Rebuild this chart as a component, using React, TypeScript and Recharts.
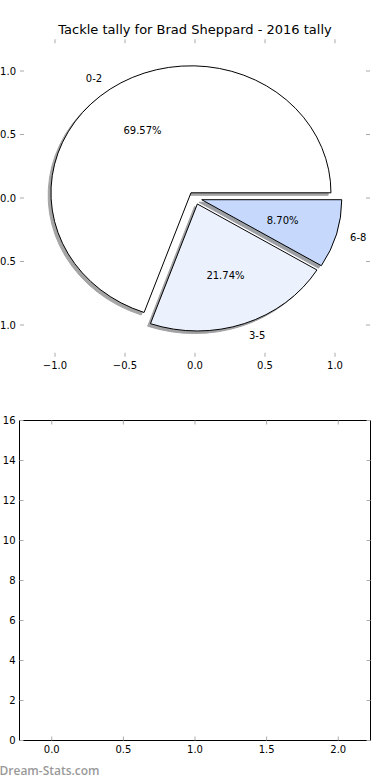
import React from 'react'
import { PieChart, Pie, Cell, ScatterChart, Scatter, XAxis, YAxis } from 'recharts'

const TITLE = 'Tackle tally for Brad Sheppard - 2016 tally'
const WATERMARK = 'Dream-Stats.com'

const tallyBins = ['0-2', '3-5', '6-8']
const tallyCounts = [16, 5, 2]
const sliceColors = ['#ffffff', '#ebf1fd', '#c6d9fd']

const pieTicks = [-1, -0.5, 0, 0.5, 1]
const countTicks = [0, 2, 4, 6, 8, 10, 12, 14, 16]
const binTicks = [0, 0.5, 1, 1.5, 2]

const pieData = tallyBins.map((name, i) => ({ name, value: tallyCounts[i] }))

// pie axes are not "equal" in the original, so the pie ends up squashed
const R = 140
const KY = 127 / 140
const EXPLODE = 0.05
const SHADOW = 0.02
const TICK_COLOR = '#aaa'
const FONT = '"DejaVu Sans", sans-serif'

const fmt = (v: number, digits: number) => (v < 0 ? '\u2212' : '') + Math.abs(v).toFixed(digits)

function wedgePath(ox: number, oy: number, r: number, a0: number, a1: number) {
  const rad = Math.PI / 180
  const x0 = ox + r * Math.cos(a0 * rad)
  const y0 = oy - r * Math.sin(a0 * rad)
  const x1 = ox + r * Math.cos(a1 * rad)
  const y1 = oy - r * Math.sin(a1 * rad)
  const large = a1 - a0 > 180 ? 1 : 0
  return `M${ox},${oy} L${x0},${y0} A${r},${r} 0 ${large} 0 ${x1},${y1} Z`
}

function geom(p: any) {
  const a0 = Math.min(p.startAngle, p.endAngle)
  const a1 = Math.max(p.startAngle, p.endAngle)
  const mid = ((a0 + a1) / 2) * (Math.PI / 180)
  return {
    a0,
    a1,
    ex: EXPLODE * p.outerRadius * Math.cos(mid),
    ey: -EXPLODE * p.outerRadius * Math.sin(mid),
  }
}

function shade(hex: string) {
  const n = parseInt(hex.slice(1), 16)
  const c = [(n >> 16) & 255, (n >> 8) & 255, n & 255].map((v) => Math.round(v * 0.3))
  return `rgb(${c[0]},${c[1]},${c[2]})`
}

function Wedge(props: any) {
  const { cx, cy, outerRadius, fill } = props
  const { a0, a1, ex, ey } = geom(props)
  return (
    <g transform={`translate(${cx},${cy}) scale(1,${KY})`}>
      <path
        d={wedgePath(ex, ey, outerRadius, a0, a1)}
        fill={fill}
        stroke="#000"
        strokeWidth={1}
        vectorEffect="non-scaling-stroke"
      />
    </g>
  )
}

function WedgeShadow(props: any) {
  const { cx, cy, outerRadius, fill } = props
  const { a0, a1, ex, ey } = geom(props)
  const off = SHADOW * outerRadius
  const col = shade(fill || '#ffffff')
  return (
    <g transform={`translate(${cx},${cy}) scale(1,${KY})`} opacity={0.5}>
      <path
        d={wedgePath(ex - off, ey + off, outerRadius, a0, a1)}
        fill={col}
        stroke={col}
        strokeWidth={1}
        vectorEffect="non-scaling-stroke"
      />
    </g>
  )
}

function SliceLabel(p: any) {
  const { cx, cy, midAngle, outerRadius, percent, name } = p
  const m = midAngle * (Math.PI / 180)
  const c = Math.cos(m)
  const s = Math.sin(m)
  const lx = EXPLODE * c + 1.1 * c
  const ly = EXPLODE * s + 1.1 * s
  const qx = EXPLODE * c + 0.6 * c
  const qy = EXPLODE * s + 0.6 * s
  return (
    <g>
      <text
        x={cx + outerRadius * lx}
        y={cy - outerRadius * KY * ly}
        dy="0.36em"
        textAnchor={lx > 0 ? 'start' : 'end'}
        fontSize={10}
        fontFamily={FONT}
        fill="#000"
      >
        {name}
      </text>
      <text
        x={cx + outerRadius * qx}
        y={cy - outerRadius * KY * qy}
        dy="0.36em"
        textAnchor="middle"
        fontSize={10}
        fontFamily={FONT}
        fill="#000"
      >
        {(percent * 100).toFixed(2)}%
      </text>
    </g>
  )
}

// ticks point inwards, like the classic matplotlib style
const bottomTick = (digits: number, label = true) => (p: any) => (
  <g>
    <line x1={p.x} x2={p.x} y1={p.y} y2={p.y - 4} stroke={TICK_COLOR} />
    {label && (
      <text x={p.x} y={p.y + 5} dy="0.71em" textAnchor="middle" fontSize={10} fontFamily={FONT} fill="#000">
        {fmt(p.payload.value, digits)}
      </text>
    )}
  </g>
)
const topTick = (p: any) => <line x1={p.x} x2={p.x} y1={p.y} y2={p.y + 4} stroke={TICK_COLOR} />
const leftTick = (digits: number) => (p: any) => (
  <g>
    <line x1={p.x} x2={p.x + 4} y1={p.y} y2={p.y} stroke={TICK_COLOR} />
    <text x={p.x - 4} y={p.y} dy="0.36em" textAnchor="end" fontSize={10} fontFamily={FONT} fill="#000">
      {fmt(p.payload.value, digits)}
    </text>
  </g>
)
const rightTick = (p: any) => <line x1={p.x} x2={p.x - 4} y1={p.y} y2={p.y} stroke={TICK_COLOR} />

const axisBase = {
  type: 'number' as const,
  tickSize: 0,
  tickMargin: 0,
  tickLine: false,
  allowDataOverflow: true,
  interval: 0 as const,
}

export default function App() {
  return (
    <div style={{ position: 'absolute', left: 0, top: 0, width: 390, height: 780, background: '#fff' }}>
      <div style={{ position: 'absolute', left: 0, top: 0 }}>
        <ScatterChart width={390} height={380} margin={{ top: 38.25, right: 19, bottom: 0, left: 0 }}>
          <XAxis {...axisBase} xAxisId="b" dataKey="x" orientation="bottom" height={23.25} domain={[-1.25, 1.25]} ticks={pieTicks} axisLine={false} tick={bottomTick(1)} />
          <XAxis {...axisBase} xAxisId="t" dataKey="x" orientation="top" height={1} domain={[-1.25, 1.25]} ticks={pieTicks} axisLine={false} tick={topTick} />
          <YAxis {...axisBase} yAxisId="l" dataKey="y" orientation="left" width={20} domain={[-1.25, 1.25]} ticks={pieTicks} axisLine={false} tick={leftTick(1)} />
          <YAxis {...axisBase} yAxisId="r" dataKey="y" orientation="right" width={1} domain={[-1.25, 1.25]} ticks={pieTicks} axisLine={false} tick={rightTick} />
          <Scatter xAxisId="b" yAxisId="l" data={[]} isAnimationActive={false} />
          <Scatter xAxisId="t" yAxisId="r" data={[]} isAnimationActive={false} />
        </ScatterChart>
      </div>
      <div style={{ position: 'absolute', left: 0, top: 0 }}>
        <PieChart width={390} height={380} margin={{ top: 0, right: 0, bottom: 0, left: 0 }}>
          <Pie
            data={pieData}
            dataKey="value"
            nameKey="name"
            cx={195}
            cy={198}
            outerRadius={R}
            startAngle={0}
            endAngle={360}
            shape={WedgeShadow}
            isAnimationActive={false}
          >
            {pieData.map((d, i) => (
              <Cell key={d.name} fill={sliceColors[i]} />
            ))}
          </Pie>
          <Pie
            data={pieData}
            dataKey="value"
            nameKey="name"
            cx={195}
            cy={198}
            outerRadius={R}
            startAngle={0}
            endAngle={360}
            shape={Wedge}
            label={SliceLabel}
            labelLine={false}
            isAnimationActive={false}
          >
            {pieData.map((d, i) => (
              <Cell key={d.name} fill={sliceColors[i]} />
            ))}
          </Pie>
        </PieChart>
      </div>
      <div style={{ position: 'absolute', left: 0, top: 380 }}>
        <ScatterChart width={390} height={400} margin={{ top: 39.5, right: 18.5, bottom: 0, left: 0 }}>
          <XAxis {...axisBase} xAxisId="b" dataKey="x" orientation="bottom" height={39.5} domain={[-0.225, 2.225]} ticks={binTicks} axisLine={{ stroke: '#000' }} tick={bottomTick(1)} />
          <XAxis {...axisBase} xAxisId="t" dataKey="x" orientation="top" height={1} domain={[-0.225, 2.225]} ticks={binTicks} axisLine={{ stroke: '#000' }} tick={topTick} />
          <YAxis {...axisBase} yAxisId="l" dataKey="y" orientation="left" width={19.5} domain={[0, 16]} ticks={countTicks} axisLine={{ stroke: '#000' }} tick={leftTick(0)} />
          <YAxis {...axisBase} yAxisId="r" dataKey="y" orientation="right" width={1} domain={[0, 16]} ticks={countTicks} axisLine={{ stroke: '#000' }} tick={rightTick} />
          <Scatter xAxisId="b" yAxisId="l" data={[]} isAnimationActive={false} />
          <Scatter xAxisId="t" yAxisId="r" data={[]} isAnimationActive={false} />
        </ScatterChart>
      </div>
      <svg width={390} height={780} style={{ position: 'absolute', left: 0, top: 0, pointerEvents: 'none' }}>
        <text x={195} y={34} textAnchor="middle" fontSize={13} fontFamily={FONT} fill="#000">
          {TITLE}
        </text>
        <text x={-0.5} y={775} fontSize={12} fontWeight={600} fontFamily='"Open Sans", sans-serif' fill="#999">
          {WATERMARK}
        </text>
      </svg>
    </div>
  )
}
